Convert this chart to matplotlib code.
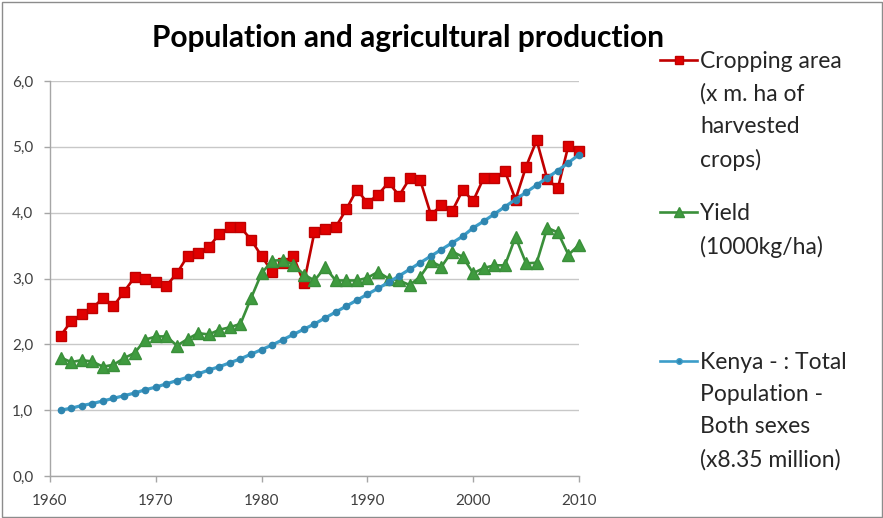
import matplotlib
matplotlib.use("Agg")
import matplotlib.pyplot as plt
from matplotlib.lines import Line2D
from matplotlib.patches import Rectangle
from matplotlib.ticker import FuncFormatter, MultipleLocator

years = list(range(1961, 2011))

# cropping area (x m. ha of harvested crops)
crop_area = [2.13, 2.35, 2.46, 2.55, 2.70, 2.58, 2.80, 3.02, 2.99, 2.94,
             2.89, 3.08, 3.34, 3.38, 3.48, 3.67, 3.78, 3.78, 3.59, 3.34,
             3.10, 3.23, 3.34, 2.93, 3.71, 3.75, 3.78, 4.05, 4.35, 4.15,
             4.27, 4.46, 4.26, 4.52, 4.49, 3.97, 4.11, 4.02, 4.34, 4.18,
             4.53, 4.53, 4.63, 4.20, 4.70, 5.10, 4.51, 4.37, 5.02, 4.94]

# yield (1000 kg/ha)
yield_t = [1.80, 1.73, 1.76, 1.74, 1.66, 1.69, 1.79, 1.87, 2.07, 2.12,
           2.12, 1.98, 2.08, 2.17, 2.15, 2.22, 2.26, 2.31, 2.70, 3.08,
           3.27, 3.28, 3.21, 3.06, 2.97, 3.17, 2.97, 2.97, 2.97, 3.01,
           3.10, 3.00, 2.97, 2.90, 3.03, 3.26, 3.18, 3.41, 3.33, 3.08,
           3.16, 3.20, 3.20, 3.63, 3.23, 3.24, 3.77, 3.70, 3.36, 3.51]

# Kenya total population (x 8.35 million)
population = [1.00, 1.03, 1.07, 1.10, 1.14, 1.18, 1.22, 1.26, 1.31, 1.35,
              1.40, 1.45, 1.50, 1.55, 1.61, 1.66, 1.72, 1.78, 1.85, 1.92,
              1.99, 2.07, 2.15, 2.23, 2.31, 2.40, 2.49, 2.58, 2.67, 2.76,
              2.85, 2.94, 3.04, 3.14, 3.24, 3.34, 3.44, 3.54, 3.64, 3.77,
              3.87, 3.98, 4.09, 4.20, 4.31, 4.42, 4.53, 4.64, 4.76, 4.88]

labels = ["Cropping area\n(x m. ha of\nharvested\ncrops)",
          "Yield\n(1000kg/ha)",
          "Kenya - : Total\nPopulation -\nBoth sexes\n(x8.35 million)"]
title = "Population and agricultural production"

FONT = "Lato"
W, H = 883, 518

red_line, red_mark = "#C00000", "#E00000"
green_line, green_mark = "#3A8F3A", "#3F9B3F"
blue_line, blue_mark = "#3C9DC9", "#2F86B0"
axis_grey = "#A6A6A6"
text_grey = "#404040"

fig = plt.figure(figsize=(W / 100, H / 100), dpi=100)
ax = fig.add_axes([50 / W, 1 - 476 / H, 529 / W, (476 - 81) / H])

ax.plot(years, crop_area, color=red_line, lw=1.9, marker="s", ms=6.5,
        mfc=red_mark, mec=red_line, clip_on=False, zorder=3)
ax.plot(years, yield_t, color=green_line, lw=1.9, marker="^", ms=8.5,
        mfc=green_mark, mec=green_line, clip_on=False, zorder=4)
ax.plot(years, population, color=blue_line, lw=2.3, marker="o", ms=4.5,
        mfc=blue_mark, mec=blue_mark, clip_on=False, zorder=5)

ax.set_xlim(1960, 2010)
ax.set_ylim(0, 6)
ax.xaxis.set_major_locator(MultipleLocator(10))
ax.yaxis.set_major_locator(MultipleLocator(1))
ax.yaxis.set_major_formatter(FuncFormatter(lambda v, p: f"{v:.1f}".replace(".", ",")))

ax.grid(axis="y", color="#C8C8C8", lw=1.0)
ax.set_axisbelow(True)
for s in ["top", "right"]:
    ax.spines[s].set_visible(False)
for s in ["left", "bottom"]:
    ax.spines[s].set_color(axis_grey)
    ax.spines[s].set_linewidth(1.0)
ax.tick_params(axis="both", direction="out", length=4, width=1.0,
               color=axis_grey, labelcolor=text_grey, labelsize=11)
ax.tick_params(axis="y", pad=8)
ax.tick_params(axis="x", pad=9)
for t in ax.get_xticklabels() + ax.get_yticklabels():
    t.set_family(FONT)

fig.text(408 / W, 1 - 38 / H, title, ha="center", va="center",
         fontsize=21.5, fontweight="bold", family=FONT, color="black")

# legend drawn by hand, with the big line spacing of the original
legend_rows = [(60, red_line, red_mark, "s", 5.5),
               (212, green_line, green_mark, "^", 6.5),
               (361, blue_line, blue_mark, "o", 4.0)]
for (yy, lc, mc, mk, ms), lab in zip(legend_rows, labels):
    yf = 1 - yy / H
    fig.add_artist(Line2D([660 / W, 697 / W], [yf, yf], transform=fig.transFigure,
                          color=lc, lw=1.9))
    fig.add_artist(Line2D([678.5 / W], [yf], transform=fig.transFigure, ls="none",
                          marker=mk, ms=ms, mfc=mc, mec=lc))
    fig.text(700 / W, 1 - (yy - 9) / H, lab, ha="left", va="top", fontsize=16.5,
             family=FONT, color="#262626", linespacing=1.66)

fig.add_artist(Rectangle((1.5 / W, 1.5 / H), (W - 3) / W, (H - 3) / H,
                         transform=fig.transFigure, fill=False,
                         edgecolor="#8C8C8C", lw=1.0))

fig.savefig("out.png", dpi=100)
